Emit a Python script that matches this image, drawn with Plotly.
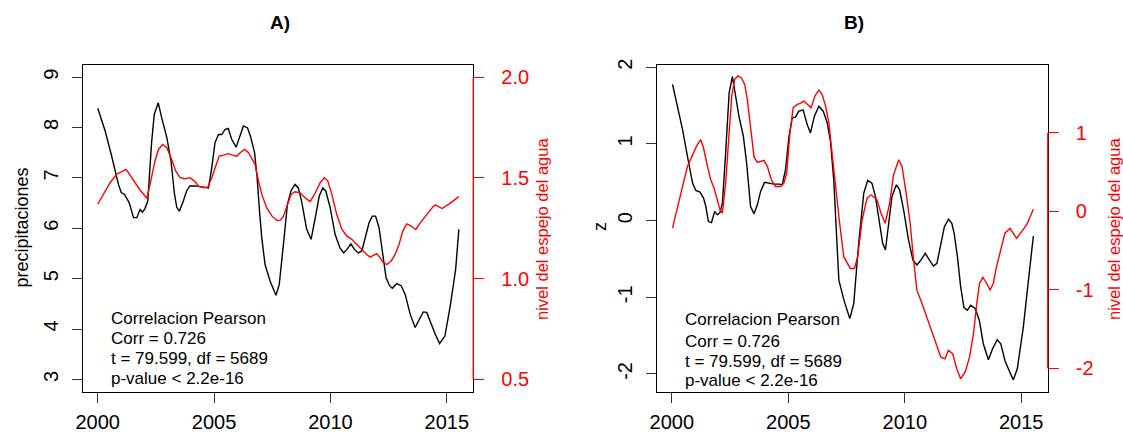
import plotly.graph_objects as go

# ---- data ---------------------------------------------------------------
# Panel A: precipitaciones (black, left axis) and nivel del espejo (red, right axis)
a_prec_year = [2000.00, 2000.32, 2000.60, 2000.89, 2001.01, 2001.15, 2001.35, 2001.54, 2001.68,
               2001.82, 2001.92, 2002.03, 2002.15, 2002.32, 2002.43, 2002.60, 2002.75, 2002.97,
               2003.15, 2003.30, 2003.40, 2003.51, 2003.68, 2003.82, 2003.96, 2004.19, 2004.76,
               2004.90, 2005.04, 2005.19, 2005.33, 2005.47, 2005.61, 2005.76, 2005.95, 2006.12,
               2006.26, 2006.44, 2006.58, 2006.74, 2006.85, 2006.96, 2007.05, 2007.19, 2007.41,
               2007.66, 2007.80, 2007.98, 2008.15, 2008.31, 2008.48, 2008.62, 2008.76, 2008.98,
               2009.17, 2009.35, 2009.52, 2009.67, 2009.80, 2009.99, 2010.20, 2010.41, 2010.57,
               2010.71, 2010.88, 2011.03, 2011.20, 2011.35, 2011.49, 2011.66, 2011.80, 2011.94,
               2012.09, 2012.24, 2012.39, 2012.54, 2012.66, 2012.85, 2013.04, 2013.21, 2013.43,
               2013.64, 2013.78, 2013.99, 2014.14, 2014.36, 2014.50, 2014.69, 2014.92, 2015.15,
               2015.38, 2015.52]
a_prec = [8.38, 7.93, 7.43, 6.87, 6.71, 6.67, 6.51, 6.21, 6.21,
          6.37, 6.32, 6.39, 6.54, 7.73, 8.26, 8.49, 8.19, 7.80,
          7.33, 6.67, 6.41, 6.34, 6.54, 6.74, 6.84, 6.84, 6.80,
          7.20, 7.70, 7.86, 7.86, 7.96, 7.98, 7.76, 7.61, 7.86,
          8.03, 7.99, 7.80, 7.50, 7.00, 6.30, 5.81, 5.28, 4.95,
          4.67, 4.88, 5.68, 6.47, 6.75, 6.87, 6.80, 6.54, 5.98,
          5.78, 6.21, 6.64, 6.80, 6.74, 6.41, 5.88, 5.61, 5.51,
          5.58, 5.69, 5.58, 5.51, 5.55, 5.81, 6.11, 6.24, 6.24,
          6.01, 5.49, 5.02, 4.86, 4.81, 4.90, 4.86, 4.69, 4.29,
          4.03, 4.15, 4.34, 4.33, 4.06, 3.90, 3.71, 3.86, 4.46,
          5.18, 5.98]

a_nivel_year = [2000.00, 2000.24, 2000.53, 2000.82, 2001.04, 2001.21, 2001.32, 2001.54, 2001.75,
                2001.92, 2002.11, 2002.25, 2002.46, 2002.61, 2002.79, 2002.97, 2003.15, 2003.35,
                2003.54, 2003.75, 2003.96, 2004.16, 2004.33, 2004.55, 2004.73, 2004.90, 2005.09,
                2005.22, 2005.40, 2005.61, 2005.80, 2005.98, 2006.12, 2006.31, 2006.48, 2006.62,
                2006.76, 2006.91, 2007.05, 2007.26, 2007.49, 2007.70, 2007.84, 2007.98, 2008.13,
                2008.31, 2008.48, 2008.70, 2008.91, 2009.13, 2009.35, 2009.56, 2009.74, 2009.89,
                2010.06, 2010.27, 2010.49, 2010.71, 2010.92, 2011.13, 2011.35, 2011.56, 2011.71,
                2011.85, 2011.99, 2012.13, 2012.28, 2012.43, 2012.61, 2012.78, 2012.95, 2013.11,
                2013.28, 2013.47, 2013.67, 2013.86, 2014.08, 2014.25, 2014.43, 2014.52, 2014.80,
                2015.15, 2015.52]
a_nivel = [1.369, 1.419, 1.476, 1.518, 1.534, 1.542, 1.526, 1.484, 1.451,
           1.426, 1.398, 1.468, 1.584, 1.641, 1.666, 1.650, 1.600, 1.534,
           1.501, 1.496, 1.501, 1.484, 1.459, 1.451, 1.454, 1.501, 1.567,
           1.608, 1.613, 1.620, 1.613, 1.608, 1.625, 1.641, 1.625, 1.597,
           1.567, 1.484, 1.418, 1.352, 1.310, 1.289, 1.289, 1.310, 1.360,
           1.418, 1.431, 1.426, 1.401, 1.382, 1.426, 1.476, 1.501, 1.484,
           1.418, 1.319, 1.245, 1.211, 1.195, 1.170, 1.145, 1.120, 1.107,
           1.117, 1.124, 1.104, 1.079, 1.070, 1.087, 1.120, 1.170, 1.236,
           1.272, 1.261, 1.244, 1.277, 1.310, 1.335, 1.360, 1.365, 1.348,
           1.375, 1.407]

# Panel B: standardised series (z)
b_z_year = [2000.03, 2000.24, 2000.46, 2000.67, 2000.89, 2001.03, 2001.21, 2001.36, 2001.46,
            2001.57, 2001.70, 2001.84, 2001.96, 2002.07, 2002.17, 2002.31, 2002.46, 2002.60,
            2002.71, 2002.88, 2003.07, 2003.21, 2003.38, 2003.53, 2003.67, 2003.81, 2003.98,
            2004.17, 2004.38, 2004.60, 2004.74, 2004.88, 2005.03, 2005.17, 2005.31, 2005.45,
            2005.64, 2005.81, 2005.95, 2006.12, 2006.31, 2006.50, 2006.67, 2006.81, 2006.95,
            2007.17, 2007.40, 2007.64, 2007.81, 2008.02, 2008.24, 2008.41, 2008.59, 2008.74,
            2008.88, 2009.05, 2009.17, 2009.31, 2009.45, 2009.64, 2009.78, 2009.95, 2010.16,
            2010.35, 2010.52, 2010.69, 2010.88, 2011.06, 2011.23, 2011.38, 2011.52, 2011.70,
            2011.88, 2012.02, 2012.12, 2012.26, 2012.40, 2012.54, 2012.69, 2012.83, 2013.02,
            2013.20, 2013.37, 2013.59, 2013.77, 2013.97, 2014.12, 2014.30, 2014.51, 2014.66,
            2014.83, 2015.09, 2015.31, 2015.52]
b_z = [1.776, 1.492, 1.187, 0.838, 0.489, 0.393, 0.371, 0.293, 0.184,
       -0.013, -0.026, 0.118, 0.075, 0.106, 0.228, 0.881, 1.667, 1.877,
       1.667, 1.362, 1.100, 0.751, 0.184, 0.088, 0.205, 0.380, 0.498,
       0.489, 0.476, 0.476, 0.467, 0.663, 1.100, 1.340, 1.349, 1.427,
       1.440, 1.252, 1.143, 1.362, 1.492, 1.427, 1.274, 1.034, 0.532,
       -0.777, -1.050, -1.278, -1.082, -0.296, 0.358, 0.524, 0.489, 0.315,
       0.009, -0.297, -0.384, -0.035, 0.315, 0.467, 0.402, 0.140, -0.253,
       -0.515, -0.580, -0.515, -0.427, -0.515, -0.593, -0.558, -0.362, -0.079,
       0.018, -0.035, -0.166, -0.471, -0.864, -1.134, -1.169, -1.104, -1.147,
       -1.300, -1.606, -1.815, -1.671, -1.553, -1.606, -1.824, -1.977, -2.077,
       -1.933, -1.387, -0.776, -0.201]

b_nivel_year = [2000.03, 2000.24, 2000.46, 2000.67, 2000.89, 2001.07, 2001.24, 2001.36, 2001.53,
                2001.67, 2001.81, 2001.96, 2002.07, 2002.17, 2002.31, 2002.46, 2002.57, 2002.70,
                2002.84, 2002.98, 2003.13, 2003.24, 2003.38, 2003.53, 2003.67, 2003.81, 2003.95,
                2004.10, 2004.27, 2004.45, 2004.67, 2004.81, 2004.93, 2005.07, 2005.21, 2005.38,
                2005.52, 2005.67, 2005.81, 2005.98, 2006.14, 2006.31, 2006.45, 2006.60, 2006.74,
                2006.88, 2007.02, 2007.17, 2007.38, 2007.66, 2007.84, 2007.98, 2008.17, 2008.38,
                2008.55, 2008.81, 2008.98, 2009.16, 2009.35, 2009.52, 2009.74, 2009.88, 2010.06,
                2010.23, 2010.38, 2010.52, 2010.74, 2010.95, 2011.13, 2011.35, 2011.55, 2011.73,
                2011.87, 2012.06, 2012.23, 2012.40, 2012.59, 2012.78, 2012.95, 2013.09, 2013.21,
                2013.35, 2013.52, 2013.66, 2013.80, 2013.94, 2014.12, 2014.30, 2014.52, 2014.80,
                2015.23, 2015.52]
b_nivel = [-0.215, 0.062, 0.318, 0.573, 0.723, 0.838, 0.915, 0.808, 0.573,
           0.403, 0.297, 0.147, 0.019, -0.023, 0.361, 1.001, 1.470, 1.684,
           1.727, 1.705, 1.620, 1.428, 1.044, 0.694, 0.625, 0.638, 0.651,
           0.574, 0.403, 0.318, 0.318, 0.361, 0.489, 1.001, 1.322, 1.364,
           1.377, 1.406, 1.364, 1.322, 1.470, 1.547, 1.492, 1.342, 1.129,
           0.745, 0.275, -0.066, -0.578, -0.728, -0.728, -0.578, -0.109, 0.169,
           0.211, 0.147, -0.023, -0.152, 0.105, 0.467, 0.659, 0.574, 0.233,
           -0.152, -0.621, -1.005, -1.176, -1.347, -1.518, -1.689, -1.860, -1.881,
           -1.774, -1.816, -2.008, -2.136, -2.051, -1.860, -1.561, -1.176, -0.920,
           -0.843, -0.920, -1.005, -0.920, -0.706, -0.493, -0.279, -0.216, -0.344,
           -0.173, 0.028]

year_ticks = [2000, 2005, 2010, 2015]
a_left_ticks = [3, 4, 5, 6, 7, 8, 9]
a_right_ticks = [0.5, 1.0, 1.5, 2.0]
b_left_ticks = [-2, -1, 0, 1, 2]
b_left_text = ["-2", "-1", "0", "1", "2"]
b_right_ticks = [-2, -1, 0, 1]
b_right_text = ["-2", "-1", "0", "1"]

stats_lines = ["Correlacion Pearson", "Corr = 0.726", "t = 79.599, df = 5689", "p-value < 2.2e-16"]

# ---- figure --------------------------------------------------------------
W, H = 1123, 432
FONT = "Liberation Sans, Arial, Helvetica, sans-serif"
RED = "#ff0000"

fig = go.Figure()
fig.add_trace(go.Scatter(x=a_prec_year, y=a_prec, mode="lines",
                         line=dict(color="black", width=1.4), xaxis="x", yaxis="y"))
fig.add_trace(go.Scatter(x=a_nivel_year, y=a_nivel, mode="lines",
                         line=dict(color=RED, width=1.4), xaxis="x", yaxis="y2"))
fig.add_trace(go.Scatter(x=b_z_year, y=b_z, mode="lines",
                         line=dict(color="black", width=1.4), xaxis="x2", yaxis="y3"))
fig.add_trace(go.Scatter(x=b_nivel_year, y=b_nivel, mode="lines",
                         line=dict(color=RED, width=1.4), xaxis="x2", yaxis="y4"))

ydom = [1 - 391.5 / H, 1 - 65 / H]
dom_a = [83.3 / W, 473.3 / W]
dom_b = [657.4 / W, 1047.8 / W]
xr = [1999.38, 2016.14]

xcommon = dict(range=xr, tickvals=year_ticks, ticks="outside", ticklen=10, tickwidth=1.2,
               tickcolor="#333", showline=True, mirror=True, linecolor="black", linewidth=1.3,
               showgrid=False, zeroline=False, tickfont=dict(size=20, color="black"),
               ticklabelstandoff=2, automargin=False)
ycommon = dict(ticks="outside", ticklen=10, tickwidth=1.2, tickcolor="#333", showgrid=False,
               zeroline=False, tickangle=-90, tickfont=dict(size=20, color="black"),
               showline=True, mirror=True, linecolor="black", linewidth=1.3,
               ticklabelstandoff=6, automargin=False)
y2common = dict(ticks="outside", ticklen=10, tickwidth=1.2, tickcolor=RED, showgrid=False,
                zeroline=False, side="right", showline=False,
                tickfont=dict(size=20, color=RED), ticklabelstandoff=13, automargin=False)

fig.update_layout(
    template="none",
    width=W, height=H, margin=dict(l=0, r=0, t=0, b=0, autoexpand=False),
    paper_bgcolor="white", plot_bgcolor="white", showlegend=False,
    font=dict(family=FONT, color="black"),
    xaxis=dict(domain=dom_a, anchor="y", **xcommon),
    xaxis2=dict(domain=dom_b, anchor="y3", **xcommon),
    yaxis=dict(domain=ydom, anchor="x", range=[2.76, 9.24], tickvals=a_left_ticks, **ycommon),
    yaxis2=dict(y2common, anchor="x", overlaying="y", range=[0.44, 2.06],
                tickvals=a_right_ticks, tickformat=".1f"),
    yaxis3=dict(domain=ydom, anchor="x2", range=[-2.229, 2.029], tickvals=b_left_ticks,
                ticktext=b_left_text, **ycommon),
    yaxis4=dict(y2common, anchor="x2", overlaying="y3", range=[-2.298, 1.867],
                tickvals=b_right_ticks, ticktext=b_right_text),
)

# red axis lines on the right, spanning the tick range like R's axis()
fig.add_shape(type="line", xref="x domain", yref="y2", x0=1, x1=1, y0=0.5, y1=2.0,
              line=dict(color=RED, width=1.4), layer="above")
fig.add_shape(type="line", xref="x2 domain", yref="y4", x0=1, x1=1, y0=-2, y1=1,
              line=dict(color=RED, width=1.4), layer="above")


def px_x(p):
    return p / W


def px_y(p):
    return 1 - p / H


ann = []
# panel titles
ann.append(dict(text="<b>A)</b>", x=px_x(280), y=px_y(23), font=dict(size=19)))
ann.append(dict(text="<b>B)</b>", x=px_x(854), y=px_y(23), font=dict(size=19)))
# axis titles
ann.append(dict(text="precipitaciones", x=px_x(21.5), y=px_y(228), textangle=-90, font=dict(size=18)))
ann.append(dict(text="nivel del espejo del agua", x=px_x(542), y=px_y(229), textangle=-90,
                font=dict(size=16.5, color=RED)))
ann.append(dict(text="z", x=px_x(600), y=px_y(227), textangle=-90, font=dict(size=18)))
ann.append(dict(text="nivel del espejo del agua", x=px_x(1114), y=px_y(229), textangle=-90,
                font=dict(size=16.5, color=RED)))
# correlation text
for left, ys in [(108.6, [318.3, 338.3, 358.3, 378.3]), (682.7, [319.3, 341.0, 361.0, 380.0])]:
    for line, yy in zip(stats_lines, ys):
        ann.append(dict(text=line, x=px_x(left), y=px_y(yy), xanchor="left", font=dict(size=17)))

for a in ann:
    a.setdefault("xanchor", "center")
    fig.add_annotation(xref="paper", yref="paper", showarrow=False, yanchor="middle", **a)

# drop the browser's default page margin so the figure sits at the window origin
fig.write_html("out.html", config={"displayModeBar": False},
               post_script="document.body.style.margin='0';")
